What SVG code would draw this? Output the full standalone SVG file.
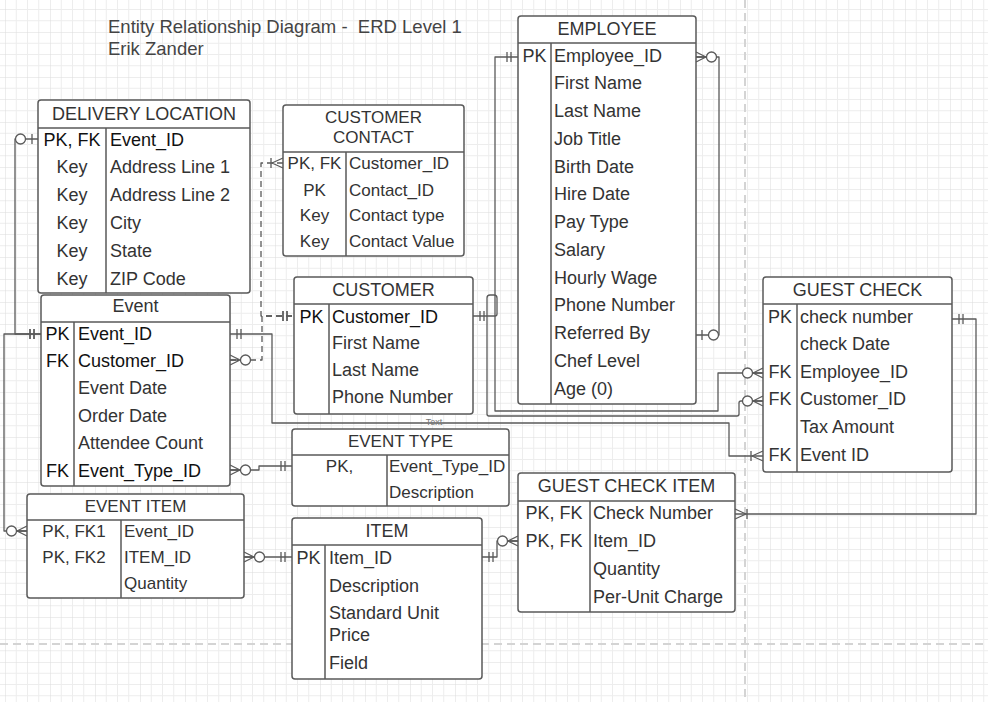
<svg xmlns="http://www.w3.org/2000/svg" width="988" height="702" viewBox="0 0 988 702">
<defs>
<style>
.bg{fill:#fff}
.box{fill:#fff;stroke:#5a5a5a;stroke-width:1.5}
.sep{stroke:#5a5a5a;stroke-width:1.5;fill:none}
.t{font-family:"Liberation Sans",Arial,sans-serif;font-size:18px;fill:#333}
.s17{font-size:17px}
.m{text-anchor:middle}
.d{fill:#111}
.conn{fill:none;stroke:#5a5a5a;stroke-width:1.3;stroke-linejoin:round}
.dash{stroke-dasharray:6 4}
.mk{fill:none;stroke:#5a5a5a;stroke-width:1.3}
.mkc{fill:#fff;stroke:#5a5a5a;stroke-width:1.3}
.pb{stroke:#d4d4d4;stroke-width:2;stroke-dasharray:8 5;fill:none}
</style>
<pattern id="grid" patternUnits="userSpaceOnUse" x="5" y="32" width="45" height="45">
<path d="M11.25,0 V45 M22.5,0 V45 M33.75,0 V45 M0,11.25 H45 M0,22.5 H45 M0,33.75 H45" stroke="#ededed" stroke-width="1" fill="none"/>
<path d="M0,0 V45 M0,0 H45" stroke="#dcdcdc" stroke-width="1" fill="none"/>
</pattern>
<marker id="one" markerUnits="userSpaceOnUse" viewBox="0 0 24 20" markerWidth="24" markerHeight="20" refX="24" refY="10" orient="auto-start-reverse" overflow="visible">
<path class="mk" d="M17,5 V15 M13,5 V15"/>
</marker>
<marker id="zeroMany" markerUnits="userSpaceOnUse" viewBox="0 0 24 20" markerWidth="24" markerHeight="20" refX="24" refY="10" orient="auto-start-reverse" overflow="visible">
<path class="mk" d="M14,10 L24,5 M14,10 L24,15 M14,10 H24"/>
<circle class="mkc" cx="8.5" cy="10" r="5"/>
</marker>
<marker id="zeroOne" markerUnits="userSpaceOnUse" viewBox="0 0 24 20" markerWidth="24" markerHeight="20" refX="24" refY="10" orient="auto-start-reverse" overflow="visible">
<path class="mk" d="M18,5 V15"/>
<circle class="mkc" cx="6.5" cy="10" r="5"/>
</marker>
<marker id="oneMany" markerUnits="userSpaceOnUse" viewBox="0 0 24 20" markerWidth="24" markerHeight="20" refX="24" refY="10" orient="auto-start-reverse" overflow="visible">
<path class="mk" d="M13,10 L24,5 M13,10 L24,15 M12,5 V15"/>
</marker>
</defs>

<rect class="bg" x="0" y="0" width="988" height="702"/>
<rect x="0" y="0" width="988" height="702" fill="url(#grid)"/>
<g id="page-breaks">
<path class="pb" d="M0,644 H988"/>
<path class="pb" d="M745,0 V702"/>
</g>

<g id="title">
<text class="t" x="108" y="33" style="font-size:18.5px;fill:#444;white-space:pre" xml:space="preserve">Entity Relationship Diagram -  ERD Level 1</text>
<text class="t" x="108" y="55" style="font-size:18.5px;fill:#444">Erik Zander</text>
</g>

<g id="connectors">
<path class="conn" d="M38,139 H15 V334 H41" marker-start="url(#zeroOne)" marker-end="url(#one)"/>
<path class="conn" d="M41,334 H4 V531 H27" marker-start="url(#one)" marker-end="url(#zeroMany)"/>
<path class="conn" d="M230,334 H272 V423 H729 V456 H763" marker-start="url(#one)" marker-end="url(#oneMany)"/>
<path class="conn dash" d="M230,360 H262 V316 H294" marker-start="url(#zeroMany)" marker-end="url(#one)"/>
<path class="conn dash" d="M283,163 H261 V316 H294" marker-start="url(#oneMany)" marker-end="url(#one)"/>
<path class="conn" d="M230,470 H259 V466 H292" marker-start="url(#zeroMany)" marker-end="url(#one)"/>
<path class="conn" d="M244,557 H292" marker-start="url(#zeroMany)" marker-end="url(#one)"/>
<path class="conn" d="M482,557 H497 V541 H518" marker-start="url(#one)" marker-end="url(#zeroMany)"/>
<path class="conn" d="M735,514 H976 V319 H952" marker-start="url(#oneMany)" marker-end="url(#one)"/>
<path class="conn" d="M518,57 H495 V411 H718 V373 H763" marker-start="url(#one)" marker-end="url(#zeroMany)"/>
<path class="conn" d="M473,316 H495 Q497,316 497,314 V298 Q497,295 494,295 H490 Q487,295 487,298 V414 Q487,416 489,416 H737 Q739,416 739,414 V403 Q739,401 741,401 H763" marker-start="url(#one)" marker-end="url(#zeroMany)"/>
<path class="conn" d="M696,57 H719 V335 H696" marker-start="url(#zeroMany)" marker-end="url(#zeroOne)"/>
<text class="t m" x="434" y="425" style="font-size:9px;fill:#777">Text</text>
</g>

<g id="delivery-location">
<rect class="box" x="38" y="100" width="212" height="193" rx="3"/>
<path class="sep" d="M38,128 H250 M106,128 V293"/>
<text class="t m" x="144" y="120">DELIVERY LOCATION</text>
<text class="t m d" x="72" y="145.5">PK, FK</text>
<text class="t d" x="110" y="145.5">Event_ID</text>
<text class="t m" x="72" y="173.3">Key</text>
<text class="t" x="110" y="173.3">Address Line 1</text>
<text class="t m" x="72" y="201.1">Key</text>
<text class="t" x="110" y="201.1">Address Line 2</text>
<text class="t m" x="72" y="228.9">Key</text>
<text class="t" x="110" y="228.9">City</text>
<text class="t m" x="72" y="256.7">Key</text>
<text class="t" x="110" y="256.7">State</text>
<text class="t m" x="72" y="284.5">Key</text>
<text class="t" x="110" y="284.5">ZIP Code</text>
</g>

<g id="customer-contact">
<rect class="box" x="283" y="105" width="181" height="151" rx="3"/>
<path class="sep" d="M283,152 H464 M346,152 V256"/>
<text class="t s17 m" x="373.5" y="123">CUSTOMER</text>
<text class="t s17 m" x="373.5" y="143">CONTACT</text>
<text class="t s17 m" x="314.5" y="169">PK, FK</text>
<text class="t s17" x="349" y="169">Customer_ID</text>
<text class="t s17 m" x="314.5" y="195.5">PK</text>
<text class="t s17" x="349" y="195.5">Contact_ID</text>
<text class="t s17 m" x="314.5" y="221">Key</text>
<text class="t s17" x="349" y="221">Contact type</text>
<text class="t s17 m" x="314.5" y="247">Key</text>
<text class="t s17" x="349" y="247">Contact Value</text>
</g>

<g id="employee">
<rect class="box" x="518" y="16" width="178" height="388" rx="3"/>
<path class="sep" d="M518,43 H696 M551,43 V404"/>
<text class="t m" x="607" y="35">EMPLOYEE</text>
<text class="t m" x="534.5" y="61.5">PK</text>
<text class="t" x="554" y="61.5">Employee_ID</text>
<text class="t" x="554" y="89.3">First Name</text>
<text class="t" x="554" y="117">Last Name</text>
<text class="t" x="554" y="144.8">Job Title</text>
<text class="t" x="554" y="172.6">Birth Date</text>
<text class="t" x="554" y="200.4">Hire Date</text>
<text class="t" x="554" y="228.1">Pay Type</text>
<text class="t" x="554" y="255.9">Salary</text>
<text class="t" x="554" y="283.7">Hourly Wage</text>
<text class="t" x="554" y="311.4">Phone Number</text>
<text class="t" x="554" y="339.2">Referred By</text>
<text class="t" x="554" y="367">Chef Level</text>
<text class="t" x="554" y="394.7">Age (0)</text>
</g>

<g id="event">
<rect class="box" x="41" y="295" width="189" height="191" rx="3"/>
<path class="sep" d="M41,322 H230 M74,322 V486"/>
<text class="t m" x="135.5" y="312">Event</text>
<text class="t m d" x="57.5" y="339.5">PK</text>
<text class="t d" x="78" y="339.5">Event_ID</text>
<text class="t m d" x="57.5" y="366.9">FK</text>
<text class="t d" x="78" y="366.9">Customer_ID</text>
<text class="t" x="78" y="394.3">Event Date</text>
<text class="t" x="78" y="421.7">Order Date</text>
<text class="t" x="78" y="449.1">Attendee Count</text>
<text class="t m d" x="57.5" y="476.5">FK</text>
<text class="t d" x="78" y="476.5">Event_Type_ID</text>
</g>

<g id="customer">
<rect class="box" x="294" y="277" width="179" height="137" rx="3"/>
<path class="sep" d="M294,304 H473 M329,304 V414"/>
<text class="t m" x="383.5" y="296">CUSTOMER</text>
<text class="t m d" x="311.5" y="322.5">PK</text>
<text class="t d" x="332" y="322.5">Customer_ID</text>
<text class="t" x="332" y="349">First Name</text>
<text class="t" x="332" y="375.5">Last Name</text>
<text class="t" x="332" y="403">Phone Number</text>
</g>

<g id="event-type">
<rect class="box" x="292" y="429" width="217" height="77" rx="3"/>
<path class="sep" d="M292,455 H509 M387,455 V506"/>
<text class="t s17 m" x="400.5" y="447">EVENT TYPE</text>
<text class="t s17 m" x="339.5" y="472">PK,</text>
<text class="t s17" x="389" y="472">Event_Type_ID</text>
<text class="t s17" x="389" y="497.5">Description</text>
</g>

<g id="guest-check">
<rect class="box" x="763" y="277" width="189" height="195" rx="3"/>
<path class="sep" d="M763,304 H952 M797,304 V472"/>
<text class="t m" x="857.5" y="296">GUEST CHECK</text>
<text class="t m" x="780" y="322.5">PK</text>
<text class="t" x="800" y="322.5">check number</text>
<text class="t" x="800" y="350.1">check Date</text>
<text class="t m" x="780" y="377.7">FK</text>
<text class="t" x="800" y="377.7">Employee_ID</text>
<text class="t m" x="780" y="405.3">FK</text>
<text class="t" x="800" y="405.3">Customer_ID</text>
<text class="t" x="800" y="432.9">Tax Amount</text>
<text class="t m" x="780" y="460.5">FK</text>
<text class="t" x="800" y="460.5">Event ID</text>
</g>

<g id="event-item">
<rect class="box" x="27" y="494" width="217" height="104" rx="3"/>
<path class="sep" d="M27,520 H244 M121,520 V598"/>
<text class="t s17 m" x="135.5" y="512">EVENT ITEM</text>
<text class="t s17 m" x="74" y="536.5">PK, FK1</text>
<text class="t s17" x="124" y="536.5">Event_ID</text>
<text class="t s17 m" x="74" y="562.5">PK, FK2</text>
<text class="t s17" x="124" y="562.5">ITEM_ID</text>
<text class="t s17" x="124" y="588.5">Quantity</text>
</g>

<g id="item">
<rect class="box" x="292" y="518" width="190" height="161" rx="3"/>
<path class="sep" d="M292,545 H482 M325,545 V679"/>
<text class="t m" x="387" y="537">ITEM</text>
<text class="t m" x="308.5" y="563.5">PK</text>
<text class="t" x="329" y="563.5">Item_ID</text>
<text class="t" x="329" y="591.5">Description</text>
<text class="t" x="329" y="618.5">Standard Unit</text>
<text class="t" x="329" y="640.5">Price</text>
<text class="t" x="329" y="668.5">Field</text>
</g>

<g id="guest-check-item">
<rect class="box" x="518" y="473" width="217" height="139" rx="3"/>
<path class="sep" d="M518,501 H735 M590,501 V612"/>
<text class="t m" x="626.5" y="492">GUEST CHECK ITEM</text>
<text class="t m" x="554" y="518.5">PK, FK</text>
<text class="t" x="593" y="518.5">Check Number</text>
<text class="t m" x="554" y="546.5">PK, FK</text>
<text class="t" x="593" y="546.5">Item_ID</text>
<text class="t" x="593" y="574.5">Quantity</text>
<text class="t" x="593" y="602.5">Per-Unit Charge</text>
</g>
</svg>
